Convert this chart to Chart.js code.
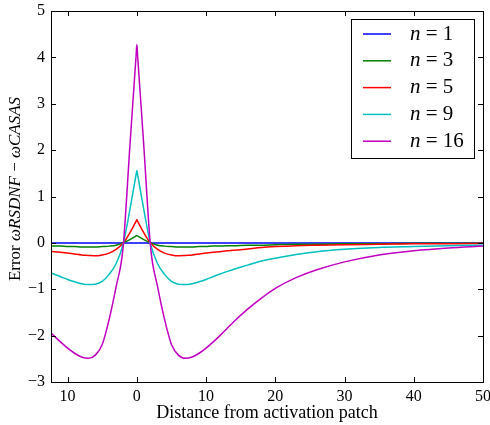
<!DOCTYPE html>
<html>
<head>
<meta charset="utf-8">
<script src="https://cdn.jsdelivr.net/npm/chart.js@4"></script>
<style>
  body { margin: 0; background: #fff; }
  #wrap { width: 490px; height: 425px; position: relative; }
</style>
</head>
<body>
<div id="wrap"><canvas id="errChart"></canvas></div>
<script>
// distance values (x)
const distance = [-13, -12, -11, -10, -9, -8, -7, -6, -5, -4, -3, -2, -1, -0.1, 0, 0.1,
  1, 2, 3, 4, 5, 6, 7, 8, 9, 10, 11, 12, 13, 14, 16, 18, 20, 23, 26, 30, 35, 40, 45, 50];

const labels = ["1", "3", "5", "9", "16"];
const colors = ["#0000ff", "#008000", "#ff0000", "#00bfbf", "#bf00bf"];

const err1 = [0, 0, 0, 0, 0, 0, 0, 0, 0, 0, 0, 0, 0, 0, 0, 0,
  0, 0, 0, 0, 0, 0, 0, 0, 0, 0, 0, 0, 0, 0, 0, 0, 0, 0, 0, 0, 0, 0, 0, 0];
const err3 = [-0.06, -0.07, -0.07, -0.08, -0.08, -0.09, -0.09, -0.09, -0.08, -0.07, -0.05, 0, 0.07, 0.15, 0.16, 0.15,
  0.07, 0, -0.05, -0.07, -0.08, -0.09, -0.09, -0.09, -0.08, -0.08, -0.07, -0.07, -0.06, -0.06,
  -0.05, -0.05, -0.04, -0.03, -0.03, -0.02, -0.02, -0.01, -0.01, -0.01];
const err5 = [-0.17, -0.19, -0.20, -0.22, -0.24, -0.26, -0.27, -0.28, -0.26, -0.22, -0.14, -0.01, 0.22, 0.47, 0.50, 0.47,
  0.22, -0.01, -0.14, -0.22, -0.26, -0.28, -0.27, -0.26, -0.24, -0.22, -0.20, -0.19, -0.17, -0.16,
  -0.13, -0.10, -0.08, -0.06, -0.05, -0.04, -0.03, -0.02, -0.02, -0.01];
const err9 = [-0.62, -0.67, -0.73, -0.79, -0.84, -0.88, -0.90, -0.89, -0.83, -0.68, -0.45, -0.04, 0.72, 1.48, 1.56, 1.48,
  0.72, -0.04, -0.45, -0.68, -0.83, -0.89, -0.90, -0.88, -0.84, -0.79, -0.73, -0.67, -0.62, -0.57,
  -0.48, -0.39, -0.33, -0.25, -0.19, -0.14, -0.10, -0.08, -0.06, -0.05];
const err16 = [-1.85, -2.00, -2.14, -2.27, -2.38, -2.46, -2.49, -2.42, -2.19, -1.65, -0.95, -0.12, 2.10, 4.06, 4.28, 4.06,
  2.10, -0.12, -0.95, -1.65, -2.19, -2.42, -2.49, -2.46, -2.38, -2.27, -2.14, -2.00, -1.85, -1.70,
  -1.43, -1.19, -0.98, -0.75, -0.58, -0.41, -0.26, -0.17, -0.11, -0.07];

const series = [err1, err3, err5, err9, err16];

const xTicks = [-10, 0, 10, 20, 30, 40, 50];
const yTicks = [-3, -2, -1, 0, 1, 2, 3, 4, 5];

const serif = "'Liberation Serif', 'DejaVu Serif', serif";

const framePlugin = {
  id: "frame",
  afterDraw(chart) {
    const { ctx, chartArea: a, scales } = chart;
    ctx.save();
    ctx.strokeStyle = "#000";
    ctx.lineWidth = 1;
    ctx.strokeRect(Math.round(a.left) + 0.5, Math.round(a.top) + 0.5,
      Math.round(a.right - a.left), Math.round(a.bottom - a.top));

    // inward ticks on all four sides
    ctx.beginPath();
    xTicks.forEach(v => {
      const px = Math.round(scales.x.getPixelForValue(v)) + 0.5;
      ctx.moveTo(px, a.bottom); ctx.lineTo(px, a.bottom - 5);
      ctx.moveTo(px, a.top); ctx.lineTo(px, a.top + 5);
    });
    yTicks.forEach(v => {
      const py = Math.round(scales.y.getPixelForValue(v)) + 0.5;
      ctx.moveTo(a.left, py); ctx.lineTo(a.left + 5, py);
      ctx.moveTo(a.right, py); ctx.lineTo(a.right - 5, py);
    });
    ctx.stroke();

    // x title
    ctx.fillStyle = "#000";
    ctx.font = "18px " + serif;
    ctx.textAlign = "center";
    ctx.textBaseline = "middle";
    ctx.fillText("Distance from activation patch", (a.left + a.right) / 2, 413);

    // y title, mixed upright / italic
    const parts = [["Error ", ""], ["\u03c9RSDNF", "italic "], [" \u2212 ", ""], ["\u03c9CASAS", "italic "]];
    ctx.save();
    ctx.translate(16, 189);
    ctx.rotate(-Math.PI / 2);
    let total = 0;
    parts.forEach(p => { ctx.font = p[1] + "17px " + serif; total += ctx.measureText(p[0]).width; });
    let cx = -total / 2;
    ctx.textAlign = "left";
    parts.forEach(p => {
      ctx.font = p[1] + "17px " + serif;
      ctx.fillText(p[0], cx, 0);
      cx += ctx.measureText(p[0]).width;
    });
    ctx.restore();

    // legend box
    const lx = 351, ly = 19, lw = 123, lh = 139;
    ctx.fillStyle = "#fff";
    ctx.fillRect(lx, ly, lw, lh);
    ctx.strokeRect(lx + 0.5, ly + 0.5, lw, lh);
    labels.forEach((lab, i) => {
      const yy = 34 + i * 26.8;
      ctx.strokeStyle = colors[i];
      ctx.lineWidth = 1.5;
      ctx.beginPath();
      ctx.moveTo(363, yy); ctx.lineTo(391, yy);
      ctx.stroke();
      ctx.fillStyle = "#000";
      ctx.textAlign = "left";
      ctx.font = "italic 21px " + serif;
      ctx.fillText("n", 410, yy);
      const w = ctx.measureText("n").width;
      ctx.font = "21px " + serif;
      ctx.fillText(" = " + lab, 410 + w, yy);
    });
    ctx.restore();
  }
};

const ctx = document.getElementById("errChart").getContext("2d");
new Chart(ctx, {
  type: "line",
  data: {
    datasets: series.map((vals, i) => ({
      label: "n = " + labels[i],
      data: vals.map((v, j) => ({ x: distance[j], y: v })),
      borderColor: colors[i],
      borderWidth: 1.5,
      pointRadius: 0,
      cubicInterpolationMode: "monotone",
      fill: false,
      order: series.length - i
    }))
  },
  options: {
    responsive: true,
    maintainAspectRatio: false,
    animation: false,
    events: [],
    layout: { padding: { top: 11, right: 7, left: 0, bottom: 0 } },
    plugins: { legend: { display: false }, tooltip: { enabled: false } },
    scales: {
      x: {
        type: "linear",
        min: -12.4,
        max: 50,
        grid: { display: false, drawTicks: false },
        border: { display: false },
        afterBuildTicks: s => { s.ticks = xTicks.map(v => ({ value: v })); },
        afterFit: s => { s.height = 43; s.paddingLeft = 0; s.paddingRight = 0; },
        ticks: {
          padding: 5,
          color: "#000",
          maxRotation: 0,
          font: { family: serif, size: 16 },
          callback: v => String(Math.abs(v))
        }
      },
      y: {
        min: -3,
        max: 5,
        grid: { display: false, drawTicks: false },
        border: { display: false },
        afterBuildTicks: s => { s.ticks = yTicks.map(v => ({ value: v })); },
        afterFit: s => { s.width = 51; s.paddingTop = 0; s.paddingBottom = 0; },
        ticks: {
          padding: 6,
          color: "#000",
          font: { family: serif, size: 16 },
          callback: v => v < 0 ? "\u2212" + (-v) : String(v)
        }
      }
    }
  },
  plugins: [framePlugin]
});
</script>
</body>
</html>
